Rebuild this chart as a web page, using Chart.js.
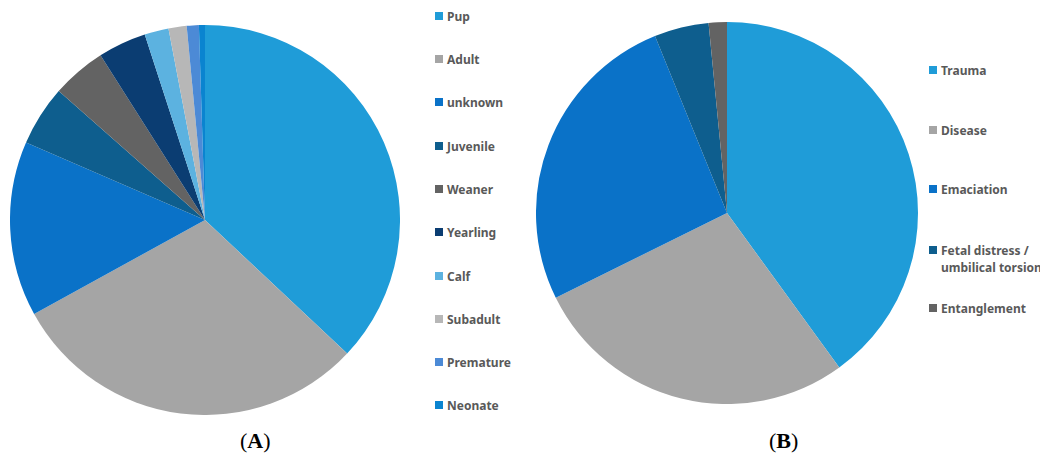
<!DOCTYPE html>
<html><head><meta charset="utf-8">
<script src="https://cdn.jsdelivr.net/npm/chart.js@4"></script>
<style>
html,body{margin:0;padding:0;background:#fff;width:1040px;height:457px;overflow:hidden;}
canvas{position:absolute;}
.leg{position:absolute;font-family:"Noto Sans",sans-serif;font-weight:bold;font-size:12px;color:#595959;line-height:17px;white-space:nowrap;}
.sq{position:absolute;width:8px;height:8px;}
.cap{position:absolute;font-family:"Liberation Serif",serif;font-size:22px;color:#000;line-height:26px;}
</style></head><body>
<canvas id="cA" width="390" height="390" style="left:10px;top:25px;width:390px;height:390px"></canvas>
<canvas id="cB" width="382" height="382" style="left:536px;top:22px;width:382px;height:382px"></canvas>
<div id="legA"></div><div id="legB"></div>
<div class="cap" style="left:240px;top:428px">(<b>A</b>)</div>
<div class="cap" style="left:769px;top:428px">(<b>B</b>)</div>
<script>
const ageLabels = ["Pup","Adult","unknown","Juvenile","Weaner","Yearling","Calf","Subadult","Premature","Neonate"];
const ageValues = [74,60,29,10,9,8,4,3,2,1];
const ageColors = ["#1F9CD8","#A5A5A5","#0A72C8","#0E5E8E","#636363","#0B3D72","#5CB2E0","#B7B7B7","#4C8AD6","#0A84D0"];
const causeLabels = ["Trauma","Disease","Emaciation",["Fetal distress /","umbilical torsion"],"Entanglement"];
const causeValues = [26,18,17,3,1];
const causeColors = ["#1F9CD8","#A5A5A5","#0A72C8","#0E5E8E","#636363"];

function makePie(id, labels, values, colors){
  new Chart(document.getElementById(id), {
    type: 'pie',
    data: { labels: labels, datasets: [{ data: values, backgroundColor: colors, borderWidth: 0, hoverOffset: 0, offset: 0 }] },
    options: {
      responsive: false, animation: false, devicePixelRatio: 1,
      layout: { padding: 0 },
      plugins: { legend: { display: false }, tooltip: { enabled: false } },
      events: []
    }
  });
}
makePie('cA', ageLabels, ageValues, ageColors);
makePie('cB', causeLabels, causeValues, causeColors);

function makeLegend(id, labels, colors, x, ys){
  const host = document.getElementById(id);
  labels.forEach((lab, i) => {
    const lines = Array.isArray(lab) ? lab : [lab];
    const h = lines.length * 17;
    const top = ys[i] - h/2;
    const sq = document.createElement('div');
    sq.className = 'sq';
    sq.style.left = x + 'px';
    sq.style.top = (top + 4.5) + 'px';
    sq.style.background = colors[i];
    host.appendChild(sq);
    const t = document.createElement('div');
    t.className = 'leg';
    t.style.left = (x + 12) + 'px';
    t.style.top = top + 'px';
    t.innerHTML = lines.join('<br>');
    host.appendChild(t);
  });
}
makeLegend('legA', ageLabels, ageColors, 435, [16,59,102,146,189,232,276,319,362,405]);
makeLegend('legB', causeLabels, causeColors, 929, [70,130,189,258.5,308]);
</script>
</body></html>
